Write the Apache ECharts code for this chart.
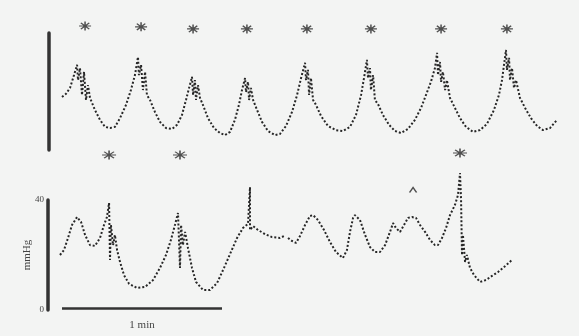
<!DOCTYPE html>
<html lang="en">
<head>
  <meta charset="UTF-8">
  <title>Pressure traces</title>
  <style>
    html, body { margin: 0; padding: 0; background: #f3f4f3; }
    #chart { width: 579px; height: 336px; }
  </style>
</head>
<body>
  <div id="chart"></div>
  <script src="https://cdn.jsdelivr.net/npm/echarts@6/dist/echarts.min.js"></script>
  <script>
    // time in seconds, pressure in mmHg (top trace: same arbitrary scale)
    const topTrace = [
      [0.75,18.1],[2.25,19.2],[3.75,21.2],[5.25,25.6],[6.4,29.1],[6.75,23.9],[7.5,28.0],[8.25,18.8],[9,26.7],[9.75,17.1],[10.5,22.2],[11.25,17.8],
      [13.1,13.7],[15,10.3],[16.9,7.9],[18.75,7.5],[20.6,7.9],[22.5,10.9],[24.75,15.4],[26.6,20.5],[28.1,25.6],
      [29.25,31.8],[29.6,25.6],[30.4,29.1],[31.1,20.5],[31.9,26.7],[32.6,18.8],[33.75,17.1],
      [35.6,13.0],[37.5,9.6],[39.75,7.5],[42,7.2],[43.9,8.6],[45.75,12.0],[47.25,17.1],[48.4,21.2],
      [49.5,25.0],[49.9,18.8],[50.6,23.9],[51,17.1],[51.75,22.2],[52.5,17.8],[53.6,15.4],
      [55.5,10.9],[57.75,7.5],[60,5.8],[61.9,5.1],[63.75,6.2],[65.6,10.3],[67.1,15.4],[68.25,20.5],
      [69.4,24.6],[69.75,19.8],[70.5,23.3],[70.9,17.1],[71.6,21.2],[72.4,17.1],[73.9,13.7],
      [75.75,9.6],[78,6.5],[80.6,5.1],[82.5,5.5],[84.75,8.2],[87,13.0],[88.9,18.8],[90.4,24.6],
      [91.9,29.8],[92.25,23.9],[93,27.4],[93.4,18.8],[94.1,24.6],[94.9,17.1],[96,15.4],
      [97.9,11.6],[100.5,8.2],[103.5,6.8],[106.1,6.5],[108.75,7.9],[111,12.0],[112.9,18.8],[114,24.6],
      [115.1,30.8],[115.5,24.6],[116.25,28.0],[116.6,20.5],[117.4,25.6],[118.1,17.1],[119.25,15.7],
      [121.1,12.0],[123.4,8.6],[125.6,6.5],[127.9,5.8],[130.5,7.2],[133.1,10.3],[135.4,14.4],[137.25,18.8],[139.1,23.3],[140.6,28.0],
      [141.4,33.2],[141.75,25.6],[142.5,30.1],[142.9,23.3],[143.6,26.7],[144.4,20.5],[145.1,23.9],[146.25,17.8],
      [148.1,14.4],[150,10.9],[152.25,7.9],[154.9,6.2],[157.5,6.8],[160.1,8.9],[162.75,13.7],[164.6,18.8],[165.75,23.9],[166.5,29.1],
      [167.25,34.2],[167.6,27.4],[168.4,31.5],[168.75,23.9],[169.5,28.0],[170.25,21.2],[171,23.9],[172.5,17.8],
      [174.4,14.4],[176.6,10.9],[178.9,8.2],[181.1,6.8],[183.75,7.5],[186.4,10.3]
    ];

    const bottomTrace = [
      [0,20.0],[1.5,21.8],[3,26.2],[4.5,30.9],[6.4,33.8],[7.9,32.0],[9.4,27.3],[11.25,23.6],[13.1,23.3],[15,26.2],[16.5,30.9],[17.6,33.8],
      [18.4,38.9],[18.75,18.2],[19.1,30.9],[19.9,23.6],[20.6,27.3],[21.4,21.8],[22.5,17.5],
      [24,12.7],[25.9,9.5],[28.9,8.0],[31.9,8.4],[34.9,10.9],[37.5,15.3],[39.75,20.0],[41.6,25.5],[43.1,30.9],[44.25,35.3],
      [44.6,36.0],[45,15.3],[45.4,30.9],[46.1,23.6],[46.9,28.4],[48,22.5],[49.5,15.3],[51,10.2],
      [53.6,7.3],[56.25,7.3],[58.9,9.8],[61.5,15.3],[64.1,21.1],[66.4,26.2],[68.6,29.8],[70.5,31.3],
      [71.25,32.0],[71.25,44.7],[71.25,29.1],[72.4,30.5],[74.25,29.1],[76.9,27.6],[79.5,26.5],[82.5,26.2],[84,26.9],
      [85.1,null],
      [85.5,26.2],[87,25.1],[88.5,24.4],[90,26.9],[91.9,30.9],[93.75,34.2],[94.9,34.5],[96.75,32.7],[99,29.1],
      [101.25,24.7],[103.5,21.1],[106.1,18.9],[107.6,21.8],[108.75,28.4],[109.9,33.5],[110.6,34.5],[112.5,32.7],
      [114.4,27.3],[116.25,22.9],[118.1,21.1],[120,21.1],[121.9,23.6],[123.75,28.4],[124.9,31.6],[126,29.8],
      [127.5,28.4],[129,30.9],[130.5,33.5],[132,33.8],[133.5,33.5],[135,30.9],[136.9,28.4],[138.75,25.5],
      [140.6,23.6],[141.75,23.6],[143.25,26.2],[144.75,29.8],[146.25,34.5],[148.1,38.2],[149.25,41.8],
      [150,49.8],[150.4,40.0],[150.75,20.0],[151.1,27.3],[151.9,17.5],[152.6,20.0],[153.75,15.3],
      [155.25,12.7],[157.5,10.2],[159.75,10.9],[162,12.4],[164.25,13.8],[166.5,15.6],[169.5,18.2]
    ];

    // asterisks marking events
    const topStars = [[9.4,42.4],[30.4,42.1],[49.9,41.4],[70.1,41.4],[92.6,41.4],[116.6,41.4],[142.9,41.4],[167.6,41.4]];
    const bottomStars = [[18.4,56.4],[45,56.4],[150,57.1]];
    const caretMarks = [[132.4,43.6]];
    const scaleBar = [0.75, 60.75]; // 1 min
    const pressureTicks = [0, 40];

    const ink = '#262626';
    const starPath = 'path://M5,0L5,10M0,5L10,5M1.5,1.5L8.5,8.5M1.5,8.5L8.5,1.5';
    const caretPath = 'path://M0,6L4,0L8,6';
    const serif = 'Liberation Serif';

    const chart = echarts.init(document.getElementById('chart'));

    const traceStyle = { color: ink, width: 2, type: [2, 2] };
    const starStyle = { color: 'transparent', borderColor: ink, borderWidth: 1.3 };

    chart.setOption({
      backgroundColor: '#f3f4f3',
      animation: false,
      grid: [
        { left: 60, right: 19, top: 33, height: 117 },
        { left: 60, right: 19, top: 200, height: 110 }
      ],
      xAxis: [
        { gridIndex: 0, type: 'value', min: 0, max: 187.5, show: false },
        { gridIndex: 1, type: 'value', min: 0, max: 187.5, show: false }
      ],
      yAxis: [
        {
          gridIndex: 0, type: 'value', min: 0, max: 40, offset: 11,
          axisLine: { show: true, onZero: false, lineStyle: { color: '#333', width: 3.5 } },
          axisTick: { show: false }, axisLabel: { show: false }, splitLine: { show: false }
        },
        {
          gridIndex: 1, type: 'value', min: pressureTicks[0], max: pressureTicks[1], interval: 40, offset: 12,
          name: 'mmHg', nameLocation: 'middle', nameGap: 15, nameMoveOverlap: false,
          nameTextStyle: { fontFamily: serif, fontSize: 11, color: '#444' },
          axisLine: { show: true, onZero: false, lineStyle: { color: '#333', width: 3.5 } },
          axisTick: { show: false },
          axisLabel: { fontFamily: serif, fontSize: 9, color: '#444', margin: 4 },
          splitLine: { show: false }
        }
      ],
      series: [
        {
          type: 'line', xAxisIndex: 0, yAxisIndex: 0, data: topTrace,
          symbol: 'none', clip: false, lineStyle: traceStyle
        },
        {
          type: 'line', xAxisIndex: 1, yAxisIndex: 1, data: bottomTrace,
          symbol: 'none', clip: false, connectNulls: false, lineStyle: traceStyle,
          markLine: {
            silent: true, symbol: 'none',
            lineStyle: { color: '#333', width: 2.5, type: 'solid' },
            label: {
              show: true, position: 'insideMiddleBottom', formatter: '1 min',
              fontFamily: serif, fontSize: 11, color: '#444', distance: 12
            },
            data: [[{ coord: [scaleBar[0], 0.7] }, { coord: [scaleBar[1], 0.7] }]]
          }
        },
        {
          type: 'scatter', xAxisIndex: 0, yAxisIndex: 0, data: topStars, clip: false,
          symbol: starPath, symbolSize: [12, 9], itemStyle: starStyle
        },
        {
          type: 'scatter', xAxisIndex: 1, yAxisIndex: 1, data: bottomStars, clip: false,
          symbol: starPath, symbolSize: [14, 9], itemStyle: starStyle
        },
        {
          type: 'scatter', xAxisIndex: 1, yAxisIndex: 1, data: caretMarks, clip: false,
          symbol: caretPath, symbolSize: [7, 5], itemStyle: starStyle
        }
      ]
    });
  </script>
</body>
</html>
